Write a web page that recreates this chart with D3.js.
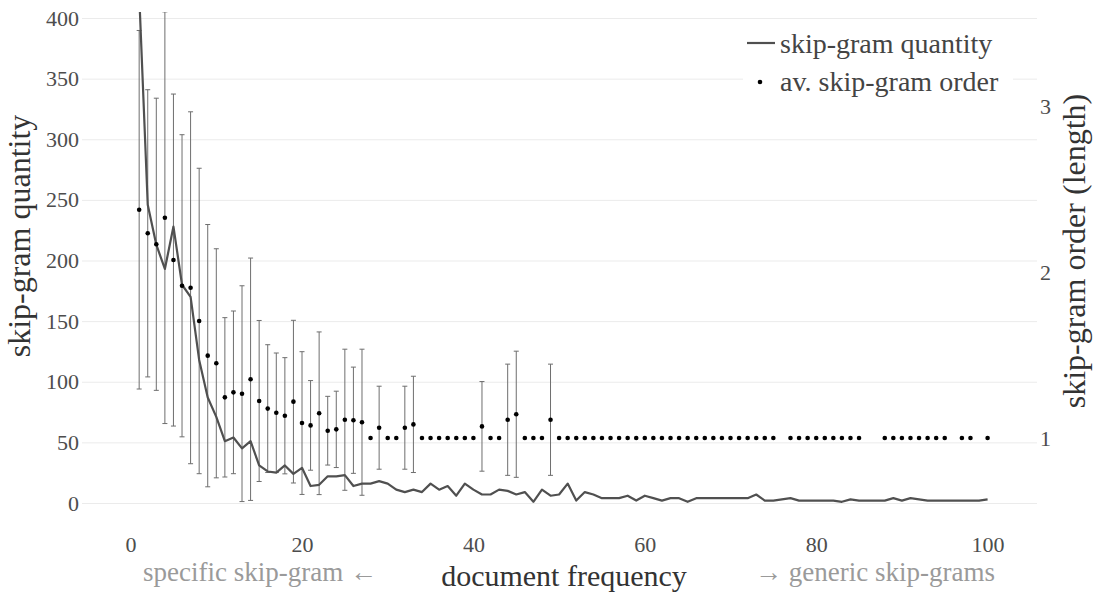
<!DOCTYPE html>
<html>
<head>
<meta charset="utf-8">
<script src="https://cdn.jsdelivr.net/npm/d3@7"></script>
<style>
  html, body { margin: 0; padding: 0; background: #fff; }
  svg { display: block; font-family: "Liberation Serif", "Times New Roman", serif; }
</style>
</head>
<body>
<svg id="chart" width="1094" height="594"></svg>
<script>
// ---- data ----
const docFrequency = d3.range(1, 101);
const skipgramQuantity = [
  420, 246, 213, 193, 228, 180, 170, 118, 87, 71,
  51, 54, 45, 51, 31, 26, 25, 31, 24, 29,
  14, 15, 22, 22, 23, 14, 16, 16, 18, 16,
  11, 9, 11, 9, 16, 11, 14, 6, 16, 11,
  7, 7, 11, 10, 7, 9, 1, 11, 6, 7,
  16, 2, 9, 7, 4, 4, 4, 6, 2, 6,
  4, 2, 4, 4, 1, 4, 4, 4, 4, 4,
  4, 4, 7, 2, 2, 3, 4, 2, 2, 2,
  2, 2, 1, 3, 2, 2, 2, 2, 4, 2,
  4, 3, 2, 2, 2, 2, 2, 2, 2, 3
];
const orderMean = [
  2.375, 2.233, 2.167, 2.327, 2.072, 1.917, 1.905, 1.705, 1.496, 1.45,
  1.245, 1.275, 1.267, 1.354, 1.223, 1.177, 1.152, 1.134, 1.219, 1.09,
  1.076, 1.149, 1.044, 1.052, 1.11, 1.107, 1.095, 1, 1.062, 1,
  1, 1.062, 1.082, 1, 1, 1, 1, 1, 1, 1,
  1.07, 1, 1, 1.11, 1.143, 1, 1, 1, 1.11, 1,
  1, 1, 1, 1, 1, 1, 1, 1, 1, 1,
  1, 1, 1, 1, 1, 1, 1, 1, 1, 1,
  1, 1, 1, 1, 1, null, 1, 1, 1, 1,
  1, 1, 1, 1, 1, null, null, 1, 1, 1,
  1, 1, 1, 1, 1, null, 1, 1, null, 1
];
const orderSd = [
  1.08, 0.865, 0.88, 1.24, 1.0, 0.91, 1.06, 0.92, 0.79, 0.69,
  0.48, 0.49, 0.65, 0.73, 0.485, 0.385, 0.36, 0.35, 0.49, 0.43,
  0.27, 0.49, 0.207, 0.23, 0.425, 0.32, 0.44, 0, 0.25, 0,
  0, 0.25, 0.29, 0, 0, 0, 0, 0, 0, 0,
  0.27, 0, 0, 0.335, 0.38, 0, 0, 0, 0.335, 0,
  0, 0, 0, 0, 0, 0, 0, 0, 0, 0,
  0, 0, 0, 0, 0, 0, 0, 0, 0, 0,
  0, 0, 0, 0, 0, null, 0, 0, 0, 0,
  0, 0, 0, 0, 0, null, null, 0, 0, 0,
  0, 0, 0, 0, 0, null, 0, 0, null, 0
];
const xTicks = [0, 20, 40, 60, 80, 100];
const leftTicks = [0, 50, 100, 150, 200, 250, 300, 350, 400];
const rightTicks = [1, 2, 3];
const legendLabels = ["skip-gram quantity", "av. skip-gram order"];

// ---- layout ----
const svg = d3.select("#chart");
const plotLeft = 82, plotRight = 1037, plotTop = 12, plotBottom = 510;
const x = d3.scaleLinear().domain([0, 100]).range([130.6, 987.6]);
const yL = d3.scaleLinear().domain([0, 400]).range([503, 18]);
const yR = d3.scaleLinear().domain([1, 3]).range([438, 106]);

svg.append("defs").append("clipPath").attr("id", "clip")
  .append("rect").attr("x", plotLeft).attr("y", plotTop)
  .attr("width", plotRight - plotLeft).attr("height", plotBottom - plotTop);

// left axis with gridlines
const gL = svg.append("g").attr("transform", `translate(${plotLeft},0)`)
  .call(d3.axisLeft(yL).tickValues(leftTicks).tickSize(-(plotRight - plotLeft)).tickPadding(3));
gL.select(".domain").remove();
gL.selectAll(".tick line").attr("stroke", "#ebebeb").attr("stroke-width", 1);
gL.selectAll(".tick text").attr("fill", "#4d4d4d").style("font-size", "22px")
  .style("font-family", "Liberation Serif");

// right axis
const gR = svg.append("g").attr("transform", `translate(1040,0)`)
  .call(d3.axisRight(yR).tickValues(rightTicks).tickFormat(d3.format("d")).tickSize(0).tickPadding(0));
gR.select(".domain").remove();
gR.selectAll(".tick text").attr("fill", "#4d4d4d").style("font-size", "22px")
  .style("font-family", "Liberation Serif");

// bottom axis
const gB = svg.append("g").attr("transform", `translate(0,536)`)
  .call(d3.axisBottom(x).tickValues(xTicks).tickSize(0).tickPadding(0));
gB.select(".domain").remove();
gB.selectAll(".tick text").attr("fill", "#4d4d4d").style("font-size", "22px")
  .style("font-family", "Liberation Serif");

// axis titles
svg.append("text").attr("transform", "translate(30,236) rotate(-90)")
  .attr("text-anchor", "middle").attr("fill", "#333").style("font-size", "32px")
  .text("skip-gram quantity");
svg.append("text").attr("transform", "translate(1085,251) rotate(-90)")
  .attr("text-anchor", "middle").attr("fill", "#333").style("font-size", "32px")
  .text("skip-gram order (length)");
svg.append("text").attr("x", 564).attr("y", 586)
  .attr("text-anchor", "middle").attr("fill", "#333").style("font-size", "30px")
  .text("document frequency");
svg.append("text").attr("x", 143).attr("y", 581)
  .attr("text-anchor", "start").attr("fill", "#9a9a9a").style("font-size", "27px")
  .text("specific skip-gram ←");
svg.append("text").attr("x", 995).attr("y", 581)
  .attr("text-anchor", "end").attr("fill", "#9a9a9a").style("font-size", "27px")
  .text("→ generic skip-grams");

// plot contents
const plot = svg.append("g").attr("clip-path", "url(#clip)");

const orderData = docFrequency.map((d, i) => ({ x: d, m: orderMean[i], s: orderSd[i] }))
  .filter(d => d.m !== null);

// error bars
const bars = orderData.filter(d => d.s > 0);
plot.selectAll(".ebar").data(bars).join("line").attr("class", "ebar")
  .attr("x1", d => x(d.x)).attr("x2", d => x(d.x))
  .attr("y1", d => yR(d.m - d.s)).attr("y2", d => yR(d.m + d.s))
  .attr("stroke", "#6e6e6e").attr("stroke-width", 1);
["lo", "hi"].forEach(k => {
  plot.selectAll(".cap" + k).data(bars).join("line").attr("class", "cap" + k)
    .attr("x1", d => x(d.x) - 2.5).attr("x2", d => x(d.x) + 2.5)
    .attr("y1", d => yR(k === "lo" ? d.m - d.s : d.m + d.s))
    .attr("y2", d => yR(k === "lo" ? d.m - d.s : d.m + d.s))
    .attr("stroke", "#6e6e6e").attr("stroke-width", 1);
});

// quantity line
const line = d3.line().x((d, i) => x(docFrequency[i])).y(d => yL(d));
plot.append("path").datum(skipgramQuantity).attr("d", line)
  .attr("fill", "none").attr("stroke", "#505050").attr("stroke-width", 2.2)
  .attr("stroke-linejoin", "round");

// order dots
plot.selectAll(".dot").data(orderData).join("circle").attr("class", "dot")
  .attr("cx", d => x(d.x)).attr("cy", d => yR(d.m)).attr("r", 2.3).attr("fill", "#000");

// legend
const lg = svg.append("g");
lg.append("rect").attr("x", 743).attr("y", 26).attr("width", 270).attr("height", 76).attr("fill", "#fff");
lg.append("line").attr("x1", 747).attr("x2", 775).attr("y1", 43).attr("y2", 43)
  .attr("stroke", "#505050").attr("stroke-width", 2.2);
lg.append("text").attr("x", 780).attr("y", 53).attr("fill", "#444").style("font-size", "28px")
  .text(legendLabels[0]);
lg.append("circle").attr("cx", 760).attr("cy", 82).attr("r", 2.3).attr("fill", "#000");
lg.append("text").attr("x", 780).attr("y", 91).attr("fill", "#444").style("font-size", "28px")
  .text(legendLabels[1]);
</script>
</body>
</html>
